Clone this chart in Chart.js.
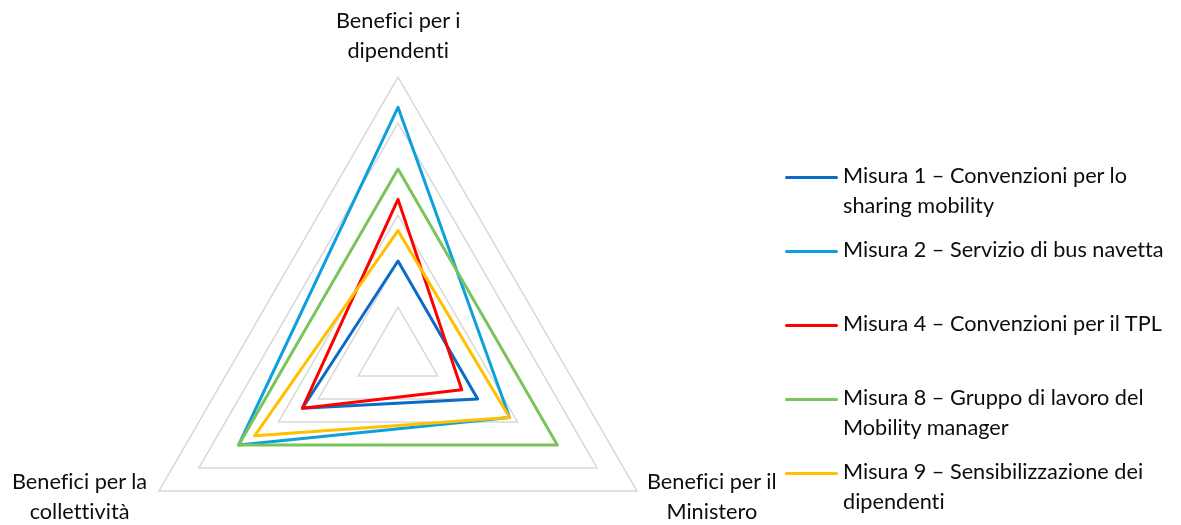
<!DOCTYPE html>
<html>
<head>
<meta charset="utf-8">
<script src="https://cdn.jsdelivr.net/npm/chart.js@4"></script>
<style>
  html, body { margin: 0; padding: 0; background: #fff; overflow: hidden; }
  #wrap { position: relative; width: 1181px; height: 525px; overflow: hidden; }
  canvas { position: absolute; left: 0; top: 0; }
  .axlab, .legtxt { position: absolute; font-family: Lato, sans-serif; font-size: 21.7px; line-height: 29.5px; color: #0d0d0d; white-space: pre; text-align: center; font-variant-ligatures: none; font-feature-settings: "liga" 0, "clig" 0; }
  .legtxt { text-align: left; }
  .legline { position: absolute; height: 3px; border-radius: 2px; }
</style>
</head>
<body>
<div id="wrap">
  <canvas id="c" width="1181" height="525"></canvas>
</div>
<script>
const categories = [
  ["Benefici per i", "dipendenti"],
  ["Benefici per il", "Ministero"],
  ["Benefici per la", "collettività"]
];
const seriesNames = [
  ["Misura 1 – Convenzioni per lo", "sharing mobility"],
  ["Misura 2 – Servizio di bus navetta"],
  ["Misura 4 – Convenzioni per il TPL"],
  ["Misura 8 – Gruppo di lavoro del", "Mobility manager"],
  ["Misura 9 – Sensibilizzazione dei", "dipendenti"]
];
const misura1 = [1.00, 1.00, 1.20];
const misura2 = [2.67, 1.40, 2.00];
const misura4 = [1.67, 0.80, 1.20];
const misura8 = [2.00, 2.00, 2.00];
const misura9 = [1.33, 1.40, 1.80];
const seriesValues = [misura1, misura2, misura4, misura8, misura9];
const seriesColors = ["#0A6CC6", "#0EA0DA", "#FF0000", "#7BC35B", "#FFC000"];
const scaleMin = 0, scaleMax = 3, scaleStep = 0.5;

const wrap = document.getElementById('wrap');

const datasets = seriesValues.map((vals, i) => ({
  label: seriesNames[i].join(' '),
  data: vals,
  borderColor: seriesColors[i],
  backgroundColor: 'transparent',
  borderWidth: 3,
  pointRadius: 0,
  pointHoverRadius: 0,
  fill: false,
  tension: 0,
  borderJoinStyle: 'round',
  order: seriesValues.length - i
}));

const labelPlugin = {
  id: 'axisLabels',
  afterRender(chart) {
    if (chart._labelsDone) return;
    chart._labelsDone = true;
    const r = chart.scales.r;
    categories.forEach((lines, i) => {
      const p = r.getPointPosition(i, r.drawingArea);
      const d = document.createElement('div');
      d.className = 'axlab';
      d.textContent = lines.join('\n');
      wrap.appendChild(d);
      const w = d.offsetWidth, h = d.offsetHeight;
      if (i === 0) {
        d.style.left = (p.x - w / 2) + 'px';
        d.style.top = (p.y - 12 - h) + 'px';
      } else if (p.x > r.xCenter) {
        d.style.left = (p.x + 10) + 'px';
        d.style.top = (p.y - 24) + 'px';
      } else {
        d.style.left = (p.x - 12 - w) + 'px';
        d.style.top = (p.y - 24) + 'px';
      }
    });
  }
};

new Chart(document.getElementById('c'), {
  type: 'radar',
  data: { labels: categories, datasets },
  options: {
    responsive: false,
    animation: false,
    events: [],
    plugins: { legend: { display: false }, tooltip: { enabled: false } },
    elements: { line: { tension: 0 } },
    scales: {
      r: {
        min: scaleMin,
        max: scaleMax,
        ticks: { display: false, stepSize: scaleStep },
        grid: { color: '#D9D9D9', lineWidth: 1.5, circular: false },
        angleLines: { display: false },
        pointLabels: { display: false },
        afterFit(scale) {
          scale.xCenter = 398;
          scale.yCenter = 353;
          scale.drawingArea = 276;
        }
      }
    }
  },
  plugins: [labelPlugin]
});

// legend
const legLeft = 785, legTop = 161, legGap = 74;
seriesNames.forEach((lines, i) => {
  const top = legTop + i * legGap;
  const ln = document.createElement('div');
  ln.className = 'legline';
  ln.style.left = legLeft + 'px';
  ln.style.width = '53px';
  ln.style.top = (top + 15) + 'px';
  ln.style.background = seriesColors[i];
  wrap.appendChild(ln);
  const t = document.createElement('div');
  t.className = 'legtxt';
  t.style.left = (legLeft + 58) + 'px';
  t.style.top = top + 'px';
  t.textContent = lines.join('\n');
  wrap.appendChild(t);
});
</script>
</body>
</html>
